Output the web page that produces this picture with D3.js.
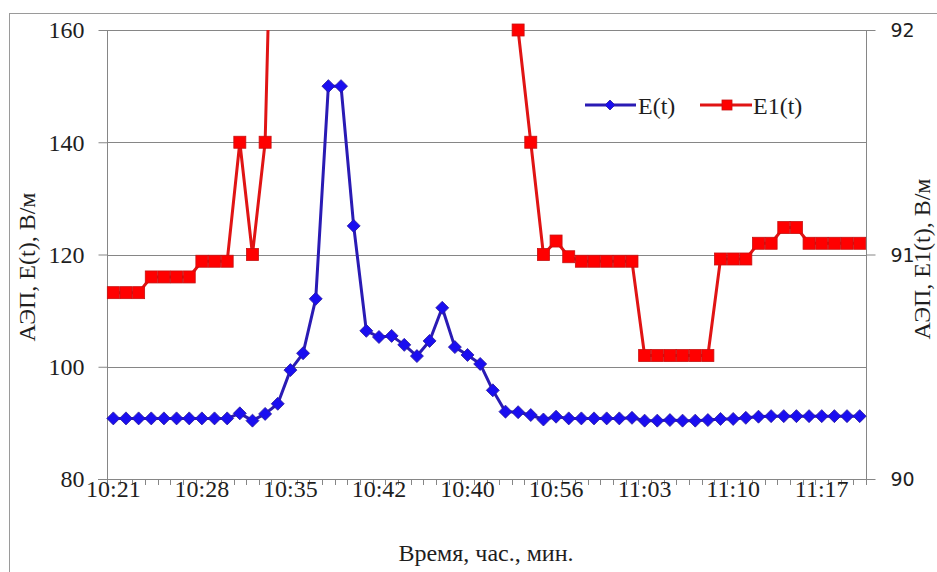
<!DOCTYPE html>
<html><head><meta charset="utf-8">
<script src="https://cdn.jsdelivr.net/npm/d3@7"></script>
<style>
body{margin:0}
svg text{font-family:"Liberation Serif","Times New Roman","Tinos" !important;}
svg text.rsans{font-family:"DejaVu Sans","Liberation Sans" !important;}
</style>
</head><body>
<svg id="c" width="937" height="572" style="display:block"></svg>
<script>
// ---- data ----
const categories = ["10:21","10:22","10:23","10:24","10:25","10:26","10:27","10:28","10:29","10:30",
  "10:31","10:32","10:33","10:34","10:35","10:36","10:37","10:38","10:39","10:40",
  "10:41","10:42","10:43","10:44","10:45","10:46","10:47","10:48","10:49","10:50",
  "10:51","10:52","10:53","10:54","10:55","10:56","10:57","10:58","10:59","11:00",
  "11:01","11:02","11:03","11:04","11:05","11:06","11:07","11:08","11:09","11:10",
  "11:11","11:12","11:13","11:14","11:15","11:16","11:17","11:18","11:19","11:20"];
// labels shown on the axis (every 7th category, as printed in the original)
const tickIndex = [0,7,14,21,28,35,42,49,56];
const tickLabels = ["10:21","10:28","10:35","10:42","10:40","10:56","11:03","11:10","11:17"];
const leftTicks = [80,100,120,140,160];
const rightTicks = [90,91,92];
// E(t), left axis, V/m
const seriesE = [90.8,90.8,90.8,90.8,90.8,90.8,90.8,90.8,90.8,90.8,
  91.7,90.4,91.6,93.4,99.4,102.4,112.1,150,150,125.1,
  106.4,105.3,105.5,103.9,101.9,104.6,110.5,103.5,102.1,100.5,
  95.8,92.0,91.9,91.4,90.6,91.1,90.8,90.8,90.8,90.8,
  90.8,90.9,90.4,90.4,90.5,90.4,90.4,90.5,90.7,90.7,
  90.9,91.1,91.2,91.2,91.2,91.2,91.2,91.2,91.2,91.2];
// E1(t), right axis, V/m (values above 92 run off the top of the plot)
const seriesE1 = [90.83,90.83,90.83,90.9,90.9,90.9,90.9,90.97,90.97,90.97,
  91.5,91.0,91.5,93.7,null,null,null,null,null,null,
  null,null,null,null,null,null,null,null,null,null,
  null,null,92.0,91.5,91.0,91.06,90.99,90.97,90.97,90.97,
  90.97,90.97,90.55,90.55,90.55,90.55,90.55,90.55,90.98,90.98,
  90.98,91.05,91.05,91.12,91.12,91.05,91.05,91.05,91.05,91.05];
const legendNames = ["E(t)","E1(t)"];

// ---- layout ----
const svg = d3.select("#c");
const L = 107, R = 866, T = 30, B = 479;
const gridCol = "#868686";
const txtCol = "#1e1e1e";
const SERIF = "Liberation Serif";

const x = d3.scaleBand().domain(d3.range(categories.length)).range([L, R]).padding(0);
const cx = i => x(i) + x.bandwidth()/2;
const yL = d3.scaleLinear().domain([80,160]).range([B,T]);
const yR = d3.scaleLinear().domain([90,92]).range([B,T]);

// outer frame
svg.append("rect").attr("x",9.5).attr("y",13.5).attr("width",940).attr("height",570)
  .attr("fill","none").attr("stroke","#9a9a9a").attr("stroke-width",1);

// gridlines
svg.append("g").selectAll("line").data(leftTicks.filter(v=>v>80)).join("line")
  .attr("x1",L).attr("x2",R).attr("y1",d=>Math.round(yL(d))+0.5).attr("y2",d=>Math.round(yL(d))+0.5)
  .attr("stroke",gridCol).attr("stroke-width",1);

// left axis
const gl = svg.append("g").attr("transform",`translate(${L+0.5},0)`)
  .call(d3.axisLeft(yL).tickValues(leftTicks).tickSize(9).tickPadding(14).tickFormat(d3.format("d")));
gl.attr("font-family",SERIF).attr("font-size",24);
gl.select(".domain").attr("stroke",gridCol).attr("d",`M0,${T}V${B}`);
gl.selectAll(".tick line").attr("stroke",gridCol);
gl.selectAll(".tick text").attr("font-family",SERIF).attr("font-size",24).attr("fill",txtCol).attr("dy","0.33em");

// right axis
const gr = svg.append("g").attr("transform",`translate(${R+0.5},0)`)
  .call(d3.axisRight(yR).tickValues(rightTicks).tickSize(9).tickPadding(15).tickFormat(d3.format("d")));
gr.attr("font-family","DejaVu Sans").attr("font-size",19);
gr.select(".domain").attr("stroke",gridCol).attr("d",`M0,${T}V${B}`);
gr.selectAll(".tick line").attr("stroke",gridCol);
gr.selectAll(".tick text").attr("class","rsans").attr("font-family","DejaVu Sans").attr("font-size",19).attr("fill",txtCol).attr("dy","0.36em");

// bottom axis: line, ticks between categories, labels every 7th
svg.append("line").attr("x1",L-9).attr("x2",R+9).attr("y1",B+0.5).attr("y2",B+0.5).attr("stroke",gridCol);
const boundaries = d3.range(categories.length+1).map(i => i < categories.length ? x(i) : x(categories.length-1)+x.bandwidth());
svg.append("g").selectAll("line").data(boundaries).join("line")
  .attr("x1",d=>Math.round(d)+0.5).attr("x2",d=>Math.round(d)+0.5).attr("y1",B).attr("y2",B+6)
  .attr("stroke",gridCol);
const gx = svg.append("g").attr("font-family",SERIF).attr("font-size",24);
gx.selectAll("text").data(tickIndex).join("text")
  .attr("x",(d)=>cx(d)).attr("y",497).attr("text-anchor","middle")
  .attr("font-family",SERIF).attr("font-size",24).attr("fill",txtCol)
  .text((d,i)=>tickLabels[i]);

// titles
const gt = svg.append("g").attr("font-family",SERIF).attr("font-size",24).attr("fill",txtCol);
gt.append("text").attr("x",486).attr("y",561).attr("text-anchor","middle").attr("font-family",SERIF).text("Время, час., мин.");
gt.append("text").attr("transform","translate(35,267) rotate(-90)").attr("text-anchor","middle").attr("font-family",SERIF).text("АЭП, E(t), В/м");
gt.append("text").attr("transform","translate(930,259) rotate(-90)").attr("text-anchor","middle").attr("font-family",SERIF).text("АЭП, E1(t), В/м");

// clip
svg.append("clipPath").attr("id","plot").append("rect").attr("x",L).attr("y",T).attr("width",R-L).attr("height",B-T);

const blueLine = "#2a1bb4", blueFill = "#1a0ef0", blueStroke = "#2a1a9c";
const redLine = "#e01414", redFill = "#ff0000", redStroke = "#c81010";

// E(t)
const lineE = d3.line().x((d,i)=>cx(i)).y(d=>yL(d));
svg.append("path").datum(seriesE).attr("d",lineE).attr("clip-path","url(#plot)")
  .attr("fill","none").attr("stroke",blueLine).attr("stroke-width",3).attr("stroke-linejoin","round");
const dia = s => `M0,${-s}L${s},0L0,${s}L${-s},0Z`;
svg.append("g").selectAll("path").data(seriesE.map((v,i)=>({v,i})).filter(d=>d.v>=80&&d.v<=160)).join("path")
  .attr("transform",d=>`translate(${cx(d.i)},${yL(d.v)})`).attr("d",dia(6.5))
  .attr("fill",blueFill).attr("stroke",blueStroke).attr("stroke-width",0.8);

// E1(t)
const lineE1 = d3.line().defined(d=>d!==null).x((d,i)=>cx(i)).y(d=>yR(d));
svg.append("path").datum(seriesE1).attr("d",lineE1).attr("clip-path","url(#plot)")
  .attr("fill","none").attr("stroke",redLine).attr("stroke-width",3).attr("stroke-linejoin","round");
svg.append("g").selectAll("rect").data(seriesE1.map((v,i)=>({v,i})).filter(d=>d.v!==null&&d.v>=90&&d.v<=92)).join("rect")
  .attr("x",d=>cx(d.i)-6).attr("y",d=>yR(d.v)-6).attr("width",12).attr("height",12)
  .attr("fill",redFill).attr("stroke",redStroke).attr("stroke-width",0.8);

// legend
const lg = svg.append("g").attr("font-family",SERIF).attr("font-size",24);
lg.append("line").attr("x1",585).attr("x2",636).attr("y1",105).attr("y2",105).attr("stroke",blueLine).attr("stroke-width",3);
lg.append("path").attr("transform","translate(610,105)").attr("d",dia(5)).attr("fill",blueFill).attr("stroke",blueStroke).attr("stroke-width",0.8);
lg.append("text").attr("x",638).attr("y",114).attr("font-family",SERIF).attr("fill",txtCol).text(legendNames[0]);
lg.append("line").attr("x1",700).attr("x2",752).attr("y1",105).attr("y2",105).attr("stroke",redLine).attr("stroke-width",3);
lg.append("rect").attr("x",722).attr("y",100).attr("width",10).attr("height",10).attr("fill",redFill).attr("stroke",redStroke).attr("stroke-width",0.8);
lg.append("text").attr("x",753).attr("y",114).attr("font-family",SERIF).attr("fill",txtCol).text(legendNames[1]);
</script>
</body></html>
